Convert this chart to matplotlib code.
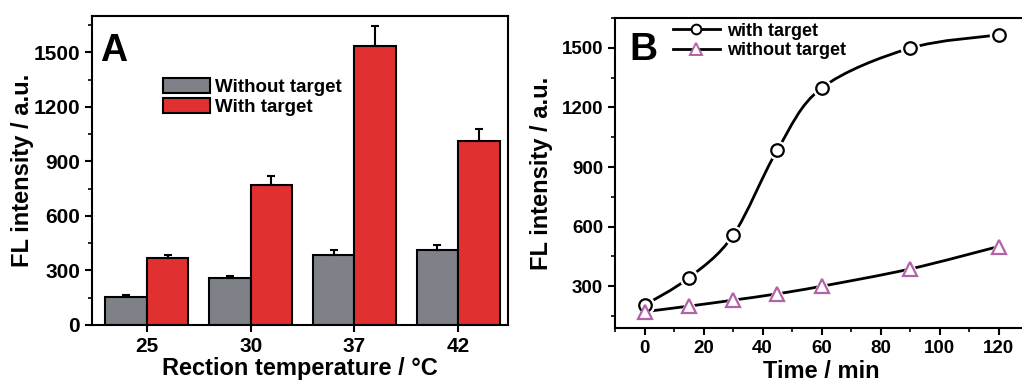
import matplotlib
matplotlib.use("Agg")
import matplotlib.pyplot as plt
from matplotlib.path import Path
from matplotlib.patches import PathPatch
from matplotlib.lines import Line2D
from matplotlib.ticker import MultipleLocator
import numpy as np

# Panel A data
temps = ["25", "30", "37", "42"]
without_a = [155, 258, 385, 412]
without_a_err = [8, 10, 25, 27]
with_a = [367, 768, 1535, 1012]
with_a_err = [20, 50, 112, 68]

# Panel B data
times = [0, 15, 30, 45, 60, 90, 120]
with_b = [205, 342, 556, 985, 1297, 1498, 1565]
without_b = [172, 200, 230, 262, 300, 387, 500]

GRAY = "#7e8187"
RED = "#e03030"
PURPLE = "#b462a8"

plt.rcParams["font.family"] = ["Liberation Sans", "DejaVu Sans"]
plt.rcParams["font.weight"] = "bold"
plt.rcParams["axes.linewidth"] = 1.5


def style_axes(ax, tick_size):
    ax.tick_params(which="major", direction="out", length=5, width=1.5,
                   labelsize=tick_size)
    ax.tick_params(which="minor", direction="out", length=3, width=1.2)
    for lab in ax.get_xticklabels() + ax.get_yticklabels():
        lab.set_fontweight("bold")


def smooth_path(xs, ys):
    # catmull-rom style bezier through the data points
    pts = np.column_stack([xs, ys]).astype(float)
    n = len(pts)
    verts = [pts[0]]
    codes = [Path.MOVETO]
    for i in range(n - 1):
        p0 = pts[i - 1] if i > 0 else pts[i]
        p1 = pts[i]
        p2 = pts[i + 1]
        p3 = pts[i + 2] if i + 2 < n else pts[i + 1]
        c1 = p1 + (p2 - p0) / 6.0
        c2 = p2 - (p3 - p1) / 6.0
        verts += [c1, c2, p2]
        codes += [Path.CURVE4] * 3
    return Path(verts, codes)


fig = plt.figure(figsize=(10.22, 3.85), dpi=100)

# ---- Panel A ----
axA = fig.add_axes([92 / 1022, 60 / 385, 416 / 1022, 309 / 385])
x = np.arange(len(temps))
w = 0.4
axA.bar(x - w / 2, without_a, w, color=GRAY, edgecolor="black", linewidth=1.5,
        yerr=[np.zeros(len(x)), without_a_err], capsize=3,
        error_kw=dict(elinewidth=1.5, capthick=1.5), label="Without target")
axA.bar(x + w / 2, with_a, w, color=RED, edgecolor="black", linewidth=1.5,
        yerr=[np.zeros(len(x)), with_a_err], capsize=3,
        error_kw=dict(elinewidth=1.5, capthick=1.5), label="With target")
axA.set_xlim(-0.53, 3.48)
axA.set_ylim(0, 1700)
axA.set_xticks(x)
axA.set_xticklabels(temps)
axA.yaxis.set_major_locator(MultipleLocator(300))
axA.yaxis.set_minor_locator(MultipleLocator(150))
style_axes(axA, 15)
axA.set_xlabel("Rection temperature / °C", fontsize=17, fontweight="bold", labelpad=1)
axA.set_ylabel("FL intensity / a.u.", fontsize=17, fontweight="bold", labelpad=0)
axA.text(0.02, 0.945, "A", transform=axA.transAxes, fontsize=27,
         fontweight="bold", va="top", ha="left")
axA.legend(loc="upper left", bbox_to_anchor=(0.171, 0.80), frameon=False,
           prop=dict(weight="bold", size=13.5), borderpad=0,
           borderaxespad=0, handlelength=2.5, handleheight=0.85,
           handletextpad=0.25, labelspacing=0.1)

# ---- Panel B ----
axB = fig.add_axes([615 / 1022, 57 / 385, 413 / 1022, 310 / 385])
axB.add_patch(PathPatch(smooth_path(times, with_b), fill=False,
                        edgecolor="black", linewidth=2, zorder=2))
axB.add_patch(PathPatch(smooth_path(times, without_b), fill=False,
                        edgecolor="black", linewidth=2, zorder=2))
# white halo so the lines stop short of the markers
axB.plot(times, with_b, ls="none", marker="o", ms=13, mfc="white",
         mec="white", zorder=2.5)
axB.plot(times, without_b, ls="none", marker="^", ms=14, mfc="white",
         mec="white", zorder=2.5)
axB.plot(times, with_b, ls="none", marker="o", ms=9, mfc="white",
         mec="black", mew=1.6, zorder=3)
axB.plot(times, without_b, ls="none", marker="^", ms=10, mfc="white",
         mec=PURPLE, mew=1.6, zorder=3)
axB.set_xlim(-10, 130)
axB.set_ylim(90, 1650)
axB.xaxis.set_major_locator(MultipleLocator(20))
axB.xaxis.set_minor_locator(MultipleLocator(10))
axB.yaxis.set_major_locator(MultipleLocator(300))
axB.yaxis.set_minor_locator(MultipleLocator(150))
style_axes(axB, 13.5)
axB.set_xlabel("Time / min", fontsize=17, fontweight="bold", labelpad=2)
axB.set_ylabel("FL intensity / a.u.", fontsize=17, fontweight="bold", labelpad=6)
axB.text(0.034, 0.955, "B", transform=axB.transAxes, fontsize=28,
         fontweight="bold", va="top", ha="left")
handles = [
    Line2D([], [], color="black", lw=2, marker="o", ms=7, mfc="white",
           mec="black", mew=1.4),
    Line2D([], [], color="black", lw=2, marker="^", ms=8, mfc="white",
           mec=PURPLE, mew=1.4),
]
axB.legend(handles, ["with target", "without target"], loc="upper left",
           bbox_to_anchor=(0.14, 0.985), frameon=False,
           prop=dict(weight="bold", size=13), borderpad=0, borderaxespad=0,
           handlelength=2.6, handletextpad=0.4, labelspacing=0.15)

fig.savefig("out.png", dpi=100)
